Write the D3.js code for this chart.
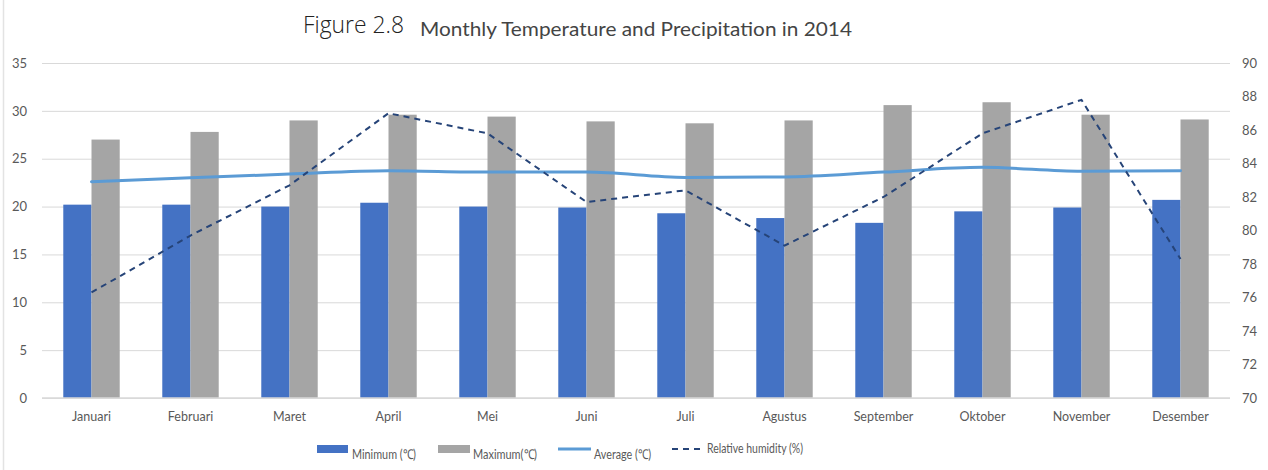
<!DOCTYPE html>
<html>
<head>
<meta charset="utf-8">
<script src="https://cdnjs.cloudflare.com/ajax/libs/d3/7.8.5/d3.min.js"></script>
<style>
body { margin: 0; background: #fff; }
svg text { font-family: Lato, "Open Sans", sans-serif; }
</style>
</head>
<body>
<div id="chart"></div>
<script>
var months = ['Januari', 'Februari', 'Maret', 'April', 'Mei', 'Juni', 'Juli', 'Agustus', 'September', 'Oktober', 'November', 'Desember'];
var minimum = [20.2, 20.2, 20.0, 20.4, 20.0, 19.9, 19.3, 18.8, 18.3, 19.5, 19.9, 20.7];
var maximum = [27.0, 27.8, 29.0, 29.6, 29.4, 28.9, 28.7, 29.0, 30.6, 30.9, 29.6, 29.1];
var average = [22.6, 23.0, 23.4, 23.75, 23.6, 23.6, 23.05, 23.1, 23.6, 24.1, 23.7, 23.75];
var humidity = [76.3, 79.7, 82.7, 87.0, 85.8, 81.7, 82.4, 79.1, 82.0, 85.8, 87.8, 78.3];
var leftTicks = [0, 5, 10, 15, 20, 25, 30, 35];
var rightTicks = [70, 72, 74, 76, 78, 80, 82, 84, 86, 88, 90];
var seriesNames = ['Minimum (\u2103)', 'Maximum(\u2103)', 'Average (\u2103)', 'Relative humidity (%)'];

var width = 1268;
var height = 470;
var plot = { left: 42, right: 1230, top: 63, bottom: 398 };

var svg = d3.select('#chart').append('svg').attr('width', width).attr('height', height);

// frame line on the left
svg.append('line')
  .attr('x1', 3.5).attr('x2', 3.5).attr('y1', 0).attr('y2', height)
  .attr('stroke', '#e3e3e3').attr('stroke-width', 1.5);

var x = d3.scaleBand().domain(months).range([plot.left, plot.right]).paddingInner(0.43).paddingOuter(0.215);
var xs = d3.scaleBand().domain(['min', 'max']).range([0, x.bandwidth()]);
var y = d3.scaleLinear().domain([0, 35]).range([plot.bottom, plot.top]);
var y2 = d3.scaleLinear().domain([70, 90]).range([plot.bottom, plot.top]);
var cx = function(m) { return x(m) + x.bandwidth() / 2; };

// gridlines
svg.append('g')
  .attr('transform', 'translate(' + plot.left + ',0)')
  .call(d3.axisLeft(y).tickValues(leftTicks).tickSize(-(plot.right - plot.left)).tickFormat(''))
  .call(function(g) {
    g.select('.domain').remove();
    g.selectAll('line').attr('stroke', '#d9d9d9');
  });

// left axis labels
svg.append('g')
  .attr('transform', 'translate(' + 27 + ',0)')
  .call(d3.axisLeft(y).tickValues(leftTicks).tickSize(0).tickPadding(0))
  .call(function(g) {
    g.select('.domain').remove();
    g.selectAll('text').attr('fill', '#595959').style('font-size', '13px').style('font-family', 'Lato, sans-serif');
  });

// right axis labels
svg.append('g')
  .attr('transform', 'translate(' + 1242 + ',0)')
  .call(d3.axisRight(y2).tickValues(rightTicks).tickSize(0).tickPadding(0))
  .call(function(g) {
    g.select('.domain').remove();
    g.selectAll('text').attr('fill', '#595959').style('font-size', '13px').style('font-family', 'Lato, sans-serif');
  });

// bars
var groups = svg.append('g').selectAll('g').data(months).join('g')
  .attr('transform', function(m) { return 'translate(' + x(m) + ',0)'; });

groups.append('rect')
  .attr('x', xs('min')).attr('width', xs.bandwidth())
  .attr('y', function(m, i) { return y(minimum[i]); })
  .attr('height', function(m, i) { return y(0) - y(minimum[i]); })
  .attr('fill', '#4472c4');

groups.append('rect')
  .attr('x', xs('max')).attr('width', xs.bandwidth())
  .attr('y', function(m, i) { return y(maximum[i]); })
  .attr('height', function(m, i) { return y(0) - y(maximum[i]); })
  .attr('fill', '#a5a5a5');

// x baseline
svg.append('line')
  .attr('x1', plot.left).attr('x2', plot.right)
  .attr('y1', y(0)).attr('y2', y(0))
  .attr('stroke', '#d9d9d9').attr('stroke-width', 1.5);

// x axis labels
svg.append('g')
  .attr('transform', 'translate(0,' + plot.bottom + ')')
  .call(d3.axisBottom(x).tickSize(0).tickPadding(14))
  .call(function(g) {
    g.select('.domain').remove();
    g.selectAll('text').attr('fill', '#595959').style('font-size', '12.5px').style('font-family', 'Lato, sans-serif');
  });

// average line
var avgLine = d3.line()
  .x(function(d, i) { return cx(months[i]); })
  .y(function(d) { return y(d); })
  .curve(d3.curveMonotoneX);
svg.append('path')
  .datum(average)
  .attr('d', avgLine)
  .attr('fill', 'none').attr('stroke', '#5b9bd5').attr('stroke-width', 3).attr('stroke-linecap', 'round');

// humidity line
var humLine = d3.line()
  .x(function(d, i) { return cx(months[i]); })
  .y(function(d) { return y2(d); });
svg.append('path')
  .datum(humidity)
  .attr('d', humLine)
  .attr('fill', 'none').attr('stroke', '#264478').attr('stroke-width', 2).attr('stroke-dasharray', '6,5');

// title
svg.append('text')
  .attr('x', 303).attr('y', 33)
  .style('font-family', '"Open Sans", "Liberation Sans", sans-serif').style('font-weight', 300).style('font-size', '23px')
  .attr('fill', '#222')
  .attr('textLength', 101).attr('lengthAdjust', 'spacingAndGlyphs')
  .text('Figure 2.8');
svg.append('text')
  .attr('x', 420).attr('y', 36)
  .style('font-size', '19.5px')
  .attr('fill', '#444')
  .attr('textLength', 432).attr('lengthAdjust', 'spacingAndGlyphs')
  .text('Monthly Temperature and Precipitation in 2014');

// legend
var legend = svg.append('g');
legend.append('rect').attr('x', 317).attr('y', 445).attr('width', 31).attr('height', 8).attr('fill', '#4472c4');
legend.append('text').attr('x', 352).attr('y', 459).attr('textLength', 64).text(seriesNames[0]);
legend.append('rect').attr('x', 438).attr('y', 445).attr('width', 32).attr('height', 8).attr('fill', '#a5a5a5');
legend.append('text').attr('x', 473).attr('y', 459).attr('textLength', 64).text(seriesNames[1]);
legend.append('line').attr('x1', 558).attr('x2', 591).attr('y1', 449).attr('y2', 449)
  .attr('stroke', '#5b9bd5').attr('stroke-width', 3);
legend.append('text').attr('x', 594).attr('y', 459).attr('textLength', 57).text(seriesNames[2]);
legend.append('line').attr('x1', 672).attr('x2', 700).attr('y1', 449).attr('y2', 449)
  .attr('stroke', '#264478').attr('stroke-width', 2).attr('stroke-dasharray', '6,5');
legend.append('text').attr('x', 707).attr('y', 453).attr('textLength', 96).text(seriesNames[3]);
legend.selectAll('text').attr('fill', '#595959').attr('lengthAdjust', 'spacingAndGlyphs')
  .style('font-family', '"Liberation Sans Narrow", Lato, sans-serif').style('font-size', '13.5px');
</script>
</body>
</html>
